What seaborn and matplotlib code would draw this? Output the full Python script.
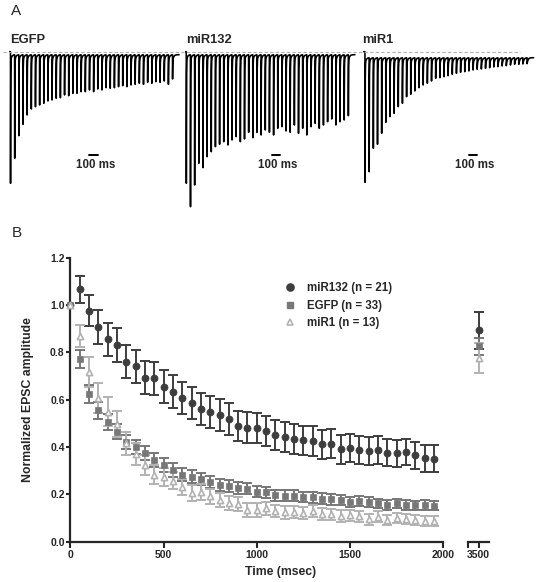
import numpy as np
import pandas as pd
import matplotlib
matplotlib.use("Agg")
import matplotlib.pyplot as plt
from matplotlib.lines import Line2D
import seaborn as sns

# ---- panel A: example EPSC trains (peak depth of each response, arbitrary units) ----
trace_names = ["EGFP", "miR132", "miR1"]
egfp_amp = [131.6, 106.6, 84.0, 72.6, 63.3, 57.3, 55.0, 53.3, 51.6, 49.3,
            48.3, 46.6, 46.0, 43.3, 44.0, 41.6, 41.6, 40.0, 40.0, 38.3,
            40.0, 37.3, 38.3, 36.0, 36.6, 36.0, 35.0, 34.0, 35.0, 33.3,
            32.6, 31.6, 32.6, 30.6, 31.6, 30.0, 30.6, 29.3, 32.6, 27.3]
mir132_amp = [131.6, 155.0, 133.3, 111.6, 116.0, 105.0, 100.0, 95.0, 92.6, 90.0,
              93.3, 88.3, 85.0, 90.0, 87.3, 80.6, 86.0, 80.6, 83.3, 78.3,
              80.6, 83.3, 76.6, 75.0, 79.3, 80.6, 73.3, 81.6, 76.6, 83.3,
              75.0, 71.6, 76.6, 73.3, 70.0, 67.3, 73.3, 70.0, 68.3, 64.0]
mir1_amp = [130.6, 120.0, 96.6, 92.6, 81.6, 70.6, 65.0, 61.6, 55.0, 51.6,
            45.0, 42.6, 39.3, 36.0, 33.3, 31.6, 29.3, 26.6, 26.0, 25.0,
            24.0, 22.6, 21.6, 20.6, 20.0, 19.3, 18.3, 17.6, 17.3, 16.6,
            16.0, 15.3, 15.0, 14.3, 14.0, 13.3, 12.6, 12.6, 12.3, 12.0]
trace_baseline = [3.0, 3.0, 6.0]
scalebar_start = [950, 1030, 1250]   # ms

# ---- panel B: normalized EPSC amplitude (mean, SEM) ----
time_ms = list(range(0, 2000, 50))
mir132_mean = [1.0, 1.066, 0.976, 0.906, 0.855, 0.831, 0.760, 0.742, 0.693, 0.690,
               0.655, 0.634, 0.606, 0.585, 0.559, 0.547, 0.535, 0.518, 0.489, 0.482,
               0.479, 0.467, 0.451, 0.444, 0.434, 0.428, 0.425, 0.411, 0.414, 0.390,
               0.397, 0.387, 0.385, 0.386, 0.376, 0.373, 0.379, 0.365, 0.352, 0.351]
mir132_sem = [0, 0.057, 0.065, 0.072, 0.070, 0.070, 0.070, 0.070, 0.070, 0.070,
              0.070, 0.070, 0.068, 0.068, 0.068, 0.067, 0.066, 0.066, 0.065, 0.065,
              0.064, 0.064, 0.063, 0.063, 0.063, 0.062, 0.062, 0.061, 0.061, 0.060,
              0.060, 0.059, 0.059, 0.059, 0.058, 0.058, 0.057, 0.057, 0.056, 0.056]
egfp_mean = [1.0, 0.772, 0.624, 0.556, 0.507, 0.465, 0.422, 0.401, 0.376, 0.345,
             0.324, 0.303, 0.283, 0.275, 0.266, 0.252, 0.241, 0.235, 0.226, 0.224,
             0.211, 0.208, 0.197, 0.194, 0.194, 0.188, 0.187, 0.182, 0.179, 0.176,
             0.169, 0.173, 0.169, 0.162, 0.156, 0.162, 0.156, 0.154, 0.156, 0.152]
egfp_sem = [0, 0.040, 0.040, 0.036, 0.034, 0.032, 0.030, 0.030, 0.030, 0.030,
            0.028, 0.028, 0.027, 0.027, 0.026, 0.026, 0.025, 0.025, 0.025, 0.024,
            0.024, 0.024, 0.023, 0.023, 0.023, 0.022, 0.022, 0.022, 0.022, 0.021,
            0.021, 0.021, 0.021, 0.020, 0.020, 0.020, 0.020, 0.020, 0.020, 0.020]
mir1_mean = [1.0, 0.869, 0.718, 0.606, 0.549, 0.496, 0.415, 0.370, 0.324, 0.282,
             0.275, 0.258, 0.232, 0.204, 0.209, 0.192, 0.176, 0.162, 0.158, 0.134,
             0.134, 0.141, 0.130, 0.124, 0.126, 0.122, 0.128, 0.117, 0.115, 0.109,
             0.112, 0.108, 0.095, 0.106, 0.092, 0.101, 0.095, 0.092, 0.089, 0.088]
mir1_sem = [0, 0.045, 0.064, 0.063, 0.062, 0.055, 0.050, 0.045, 0.042, 0.040,
            0.038, 0.036, 0.035, 0.034, 0.033, 0.032, 0.031, 0.030, 0.030, 0.029,
            0.028, 0.028, 0.027, 0.027, 0.026, 0.026, 0.025, 0.025, 0.024, 0.024,
            0.024, 0.023, 0.023, 0.023, 0.022, 0.022, 0.022, 0.021, 0.021, 0.021]
recovery_time = 3500
recovery_mean = {"miR132": 0.894, "EGFP": 0.825, "miR1": 0.775}
recovery_sem = {"miR132": 0.078, "EGFP": 0.035, "miR1": 0.064}
legend_labels = ["miR132 (n = 21)", "EGFP (n = 33)", "miR1 (n = 13)"]


def build_trace(amps, base, isi=50.0, rise=1.0, tau_fast=1.5, tau_slow=12.0, slow=7.0):
    """Turn per-pulse peak depths into a continuous current trace
    (fast drop, fast recovery, then a slow tail that gives the curled tops)."""
    t = np.arange(-15.0, len(amps) * isi + 30, 0.25)
    y = np.zeros_like(t)
    for i, a in enumerate(amps):
        t0 = i * isi
        if i < len(amps) - 1:
            seg = (t >= t0) & (t < t0 + isi)
        else:
            seg = t >= t0
        dt = t[seg] - t0
        start = 0.0 if i == 0 else y[max(np.searchsorted(t, t0) - 1, 0)]
        s = min(slow, a - base)
        down = start + (-a - start) * np.clip(dt / rise, 0, 1)
        d = dt - rise
        back = -base - (a - base - s) * np.exp(-d / tau_fast) - s * np.exp(-d / tau_slow)
        y[seg] = np.where(dt < rise, down, back)
    return pd.DataFrame({"t": t, "current": y})


sns.set_theme(style="ticks")
plt.rcParams["font.family"] = ["Liberation Sans", "DejaVu Sans"]

W, H = 539, 582
fig = plt.figure(figsize=(W / 100, H / 100), dpi=100)


def fx(px):
    return px / W


def fy(py):
    return 1 - py / H


# ---------------- panel A ----------------
fig.text(fx(11), fy(11), "A", fontsize=11, va="center", ha="left")
fig.add_artist(Line2D([fx(3), fx(520)], [fy(51.7), fy(51.7)], color="#b0b0b0",
                      lw=0.8, ls=(0, (3, 2))))

trace_lefts = [8.8, 184.6, 363.3]
label_x = [10, 186, 362]
amps_all = [egfp_amp, mir132_amp, mir1_amp]
for k, name in enumerate(trace_names):
    axt = fig.add_axes([fx(trace_lefts[k]), fy(210), fx(172), 165 / H])
    df = build_trace(amps_all[k], trace_baseline[k])
    sns.lineplot(data=df, x="t", y="current", ax=axt, color="black", lw=1.15,
                 estimator=None, sort=False)
    axt.set_xlim(-20, 2050)
    axt.set_ylim(-158.3, 6.7)
    sb = scalebar_start[k]
    axt.plot([sb, sb + 100], [-103.3, -103.3], color="black", lw=1.4)
    axt.text(sb + 75, -113.5, "100 ms", ha="center", va="center",
             fontsize=8.3, fontweight="bold")
    axt.set_axis_off()
    fig.text(fx(label_x[k]), fy(40), name, fontsize=9.3, fontweight="bold",
             ha="left", va="center")

# ---------------- panel B ----------------
fig.text(fx(12), fy(233), "B", fontsize=11, va="center", ha="left")

ax = fig.add_axes([fx(70.3), fy(541.7), fx(443.3 - 70.3), (541.7 - 257.7) / H])
ax2 = fig.add_axes([fx(468), fy(541.7), fx(21), (541.7 - 257.7) / H])

series = [
    ("miR132", mir132_mean, mir132_sem, "#3d3d3d", "o", 26, "#3d3d3d", 0.5),
    ("EGFP", egfp_mean, egfp_sem, "#777777", "s", 16, "#777777", 0.5),
    ("miR1", mir1_mean, mir1_sem, "#b2b2b2", "^", 20, "white", 1.2),
]
for z, (name, mean, sem, col, mk, size, face, elw) in enumerate(series):
    ax.errorbar(time_ms[1:], mean[1:], yerr=sem[1:], fmt="none", ecolor=col,
                elinewidth=1.4, capsize=3.4, capthick=1.4, zorder=2 + z)
    sns.scatterplot(x=time_ms, y=mean, ax=ax, marker=mk, s=size, color=face,
                    edgecolor=col, linewidth=elw, zorder=5 + z, clip_on=False,
                    legend=False)
    ax2.errorbar([recovery_time], [recovery_mean[name]], yerr=[recovery_sem[name]],
                 fmt="none", ecolor=col, elinewidth=1.4, capsize=3.4, capthick=1.4,
                 zorder=2 + z)
    sns.scatterplot(x=[recovery_time], y=[recovery_mean[name]], ax=ax2, marker=mk,
                    s=size, color=face, edgecolor=col, linewidth=elw, zorder=5 + z,
                    clip_on=False, legend=False)

ax.set_xlim(0, 2000)
ax.set_ylim(0, 1.2)
ax.set_xticks([0, 500, 1000, 1500, 2000])
ax.set_yticks([0.0, 0.2, 0.4, 0.6, 0.8, 1.0, 1.2])
ax.set_yticklabels([f"{v:.1f}" for v in ax.get_yticks()])
ax.set_xlabel("Time (msec)", fontsize=8.8, fontweight="bold", va="top")
ax.set_ylabel("Normalized EPSC amplitude", fontsize=8.8, fontweight="bold")
ax.xaxis.set_label_coords(0.565, -0.085)
ax.yaxis.set_label_coords(-0.097, 0.5)
sns.despine(ax=ax)
for s in ["left", "bottom"]:
    ax.spines[s].set_linewidth(1.6)
ax.tick_params(axis="x", direction="out", length=4, width=1.5, pad=2, labelsize=7.5)
ax.tick_params(axis="y", direction="out", length=3, width=1.5, pad=1, labelsize=7.5)
for lbl in ax.get_xticklabels() + ax.get_yticklabels():
    lbl.set_fontweight("bold")

ax2.set_xlim(3440, 3560)
ax2.set_ylim(0, 1.2)
ax2.set_xticks([3440, 3500])
ax2.set_xticklabels(["", "3500"])
sns.despine(ax=ax2, left=True)
ax2.spines["bottom"].set_linewidth(1.6)
ax2.tick_params(axis="x", direction="out", length=4, width=1.5, pad=2, labelsize=7.5)
ax2.tick_params(axis="y", left=False, labelleft=False)
ax2.set_xlabel("")
ax2.set_ylabel("")
for lbl in ax2.get_xticklabels():
    lbl.set_fontweight("bold")

handles = [
    Line2D([], [], ls="none", marker="o", ms=5.2, color="#3d3d3d"),
    Line2D([], [], ls="none", marker="s", ms=4.0, color="#777777"),
    Line2D([], [], ls="none", marker="^", ms=4.8, mfc="white", mec="#b2b2b2", mew=1.2),
]
leg = ax.legend(handles, legend_labels, loc="upper left", bbox_to_anchor=(0.574, 0.913),
                frameon=False, borderpad=0, borderaxespad=0, handlelength=1.0,
                handletextpad=1.0, labelspacing=0.45,
                prop={"size": 8.3, "weight": "bold"})

fig.savefig("out.png", dpi=100)
